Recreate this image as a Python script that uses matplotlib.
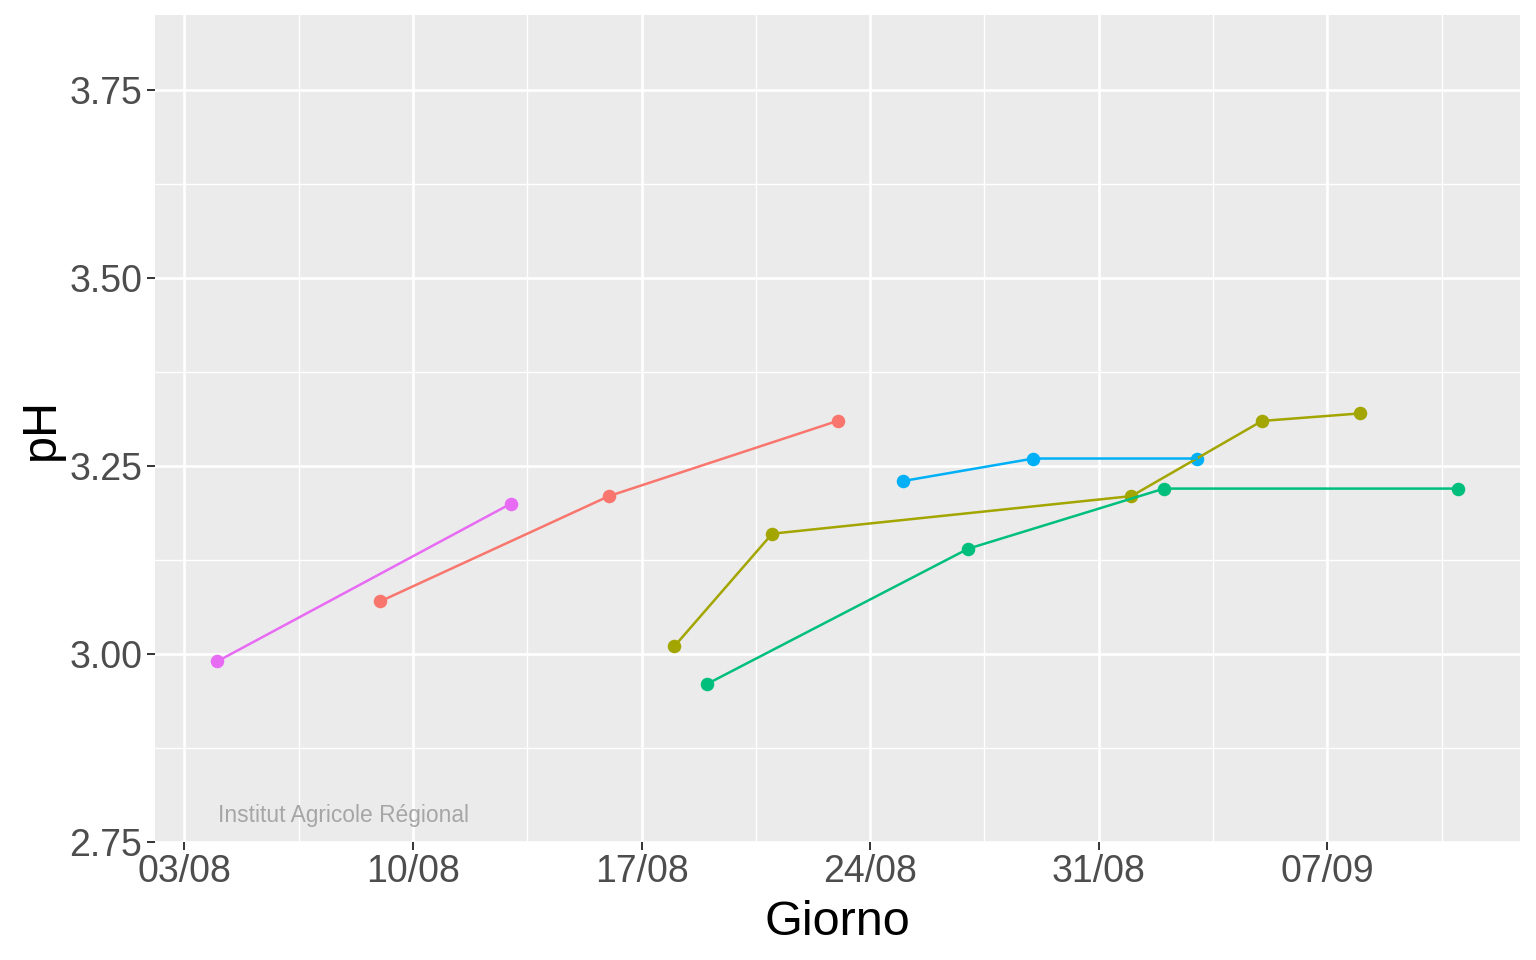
import numpy as np
import pandas as pd
import matplotlib
matplotlib.use("Agg")
import matplotlib.pyplot as plt
import matplotlib.dates as mdates
from matplotlib.ticker import MultipleLocator, FormatStrFormatter

plt.rcParams['font.family'] = ['Liberation Sans', 'DejaVu Sans']

# Dati: date di campionamento e pH per ogni gruppo (colore ggplot)
giorni_rosso = ["2021-08-09", "2021-08-16", "2021-08-23"]
ph_rosso = [3.07, 3.21, 3.31]

giorni_oliva = ["2021-08-18", "2021-08-21", "2021-09-01", "2021-09-05", "2021-09-08"]
ph_oliva = [3.01, 3.16, 3.21, 3.31, 3.32]

giorni_verde = ["2021-08-19", "2021-08-27", "2021-09-02", "2021-09-11"]
ph_verde = [2.96, 3.14, 3.22, 3.22]

giorni_blu = ["2021-08-25", "2021-08-29", "2021-09-03"]
ph_blu = [3.23, 3.26, 3.26]

giorni_magenta = ["2021-08-04", "2021-08-13"]
ph_magenta = [2.99, 3.20]

serie = [
    (giorni_rosso, ph_rosso, "#F8766D"),
    (giorni_oliva, ph_oliva, "#A3A500"),
    (giorni_verde, ph_verde, "#00BF7D"),
    (giorni_blu, ph_blu, "#00B0F6"),
    (giorni_magenta, ph_magenta, "#E76BF3"),
]

fig = plt.figure(figsize=(15.36, 9.6), dpi=100)
ax = fig.add_axes([0.1009, 0.123, 0.8887, 0.8614])
ax.set_facecolor("#EBEBEB")

tutte = []
for g, p, c in serie:
    d = pd.to_datetime(g)
    tutte.extend(d)
    ax.scatter(d, p, s=95, color=c, zorder=3, linewidths=0)
for g, p, c in serie:
    d = pd.to_datetime(g)
    ax.plot(d, p, color=c, lw=1.8, zorder=4)

# limiti asse x con espansione del 5% come ggplot
xmin = mdates.date2num(min(tutte))
xmax = mdates.date2num(max(tutte))
span = xmax - xmin
ax.set_xlim(xmin - 0.05 * span, xmax + 0.05 * span)
ax.set_ylim(2.75, 3.85)

# tick e griglia
tick_date = pd.date_range("2021-08-03", "2021-09-07", freq="7D")
ax.set_xticks(mdates.date2num(tick_date))
ax.xaxis.set_major_formatter(mdates.DateFormatter("%d/%m"))
minor_date = pd.date_range("2021-08-06 12:00", "2021-09-10 12:00", freq="7D")
ax.set_xticks(mdates.date2num(minor_date), minor=True)
ax.yaxis.set_major_locator(MultipleLocator(0.25))
ax.yaxis.set_minor_locator(MultipleLocator(0.125))
ax.yaxis.set_major_formatter(FormatStrFormatter("%.2f"))

ax.grid(which="major", color="white", lw=1.9, zorder=0)
ax.grid(which="minor", color="white", lw=0.95, zorder=0)
ax.set_axisbelow(True)
for s in ax.spines.values():
    s.set_visible(False)

ax.tick_params(which="major", length=6, width=1.4, color="#333333",
               labelsize=27, labelcolor="#4D4D4D", pad=3)
ax.tick_params(which="minor", length=0)

ax.set_xlabel("Giorno", fontsize=35, labelpad=7)
ax.set_ylabel("pH", fontsize=35, labelpad=4)

ax.text(0.046, 0.024, "Institut Agricole Régional", transform=ax.transAxes,
        fontsize=16.4, color="#A6A6A6", ha="left", va="baseline")

fig.savefig("out.png", dpi=100)
